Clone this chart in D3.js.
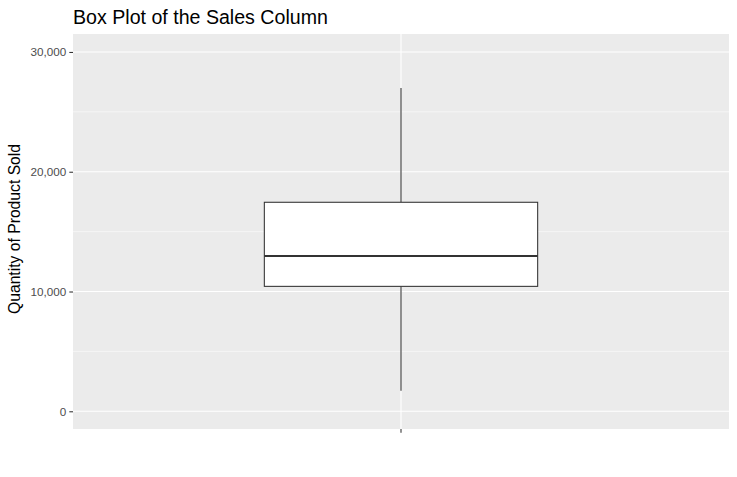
<!DOCTYPE html>
<html><head><meta charset="utf-8">
<script src="https://cdn.jsdelivr.net/npm/d3@7"></script>
<style>body{margin:0;background:#fff}svg{display:block}</style>
</head><body>
<svg id="c" width="737" height="477"></svg>
<script>
// Data
const categories = [""];
const lowerWhisker = [1720];
const q1 = [10430];
const median = [12960];
const q3 = [17450];
const upperWhisker = [27000];
const dataExtent = [20, 30000]; // full data range incl. hidden outliers
const yTicks = [0, 10000, 20000, 30000];
const yMinor = [5000, 15000, 25000];

const W = 737, H = 477;
const m = {left: 73, right: 8, top: 34, bottom: 48};
const svg = d3.select("#c");
const pw = W - m.left - m.right, ph = H - m.top - m.bottom;
const FONT = "Liberation Sans, Arial, sans-serif";

const span = dataExtent[1] - dataExtent[0];
const y = d3.scaleLinear()
  .domain([dataExtent[0] - span * 0.05, dataExtent[1] + span * 0.05])
  .range([m.top + ph, m.top]);
const x = d3.scaleBand().domain(categories).range([m.left, m.left + pw]).paddingInner(0).paddingOuter(0);
const cx = c => x(c) + x.bandwidth() / 2;
const boxW = x.bandwidth() * 0.5 / 1.2;

svg.append("rect").attr("x", m.left).attr("y", m.top).attr("width", pw).attr("height", ph).attr("fill", "#EBEBEB");

const g = svg.append("g");
g.selectAll(".minor").data(yMinor).join("line")
  .attr("x1", m.left).attr("x2", m.left + pw)
  .attr("y1", d => y(d)).attr("y2", d => y(d))
  .attr("stroke", "#fff").attr("stroke-width", 0.53);
g.selectAll(".major").data(yTicks).join("line")
  .attr("x1", m.left).attr("x2", m.left + pw)
  .attr("y1", d => y(d)).attr("y2", d => y(d))
  .attr("stroke", "#fff").attr("stroke-width", 1.07);
g.selectAll(".vmajor").data(categories).join("line")
  .attr("x1", d => cx(d)).attr("x2", d => cx(d))
  .attr("y1", m.top).attr("y2", m.top + ph)
  .attr("stroke", "#fff").attr("stroke-width", 1.07);

// Boxes
const b = svg.append("g");
categories.forEach((c, i) => {
  b.append("line").attr("x1", cx(c)).attr("x2", cx(c))
    .attr("y1", y(upperWhisker[i])).attr("y2", y(q3[i]))
    .attr("stroke", "#333").attr("stroke-width", 1.07);
  b.append("line").attr("x1", cx(c)).attr("x2", cx(c))
    .attr("y1", y(q1[i])).attr("y2", y(lowerWhisker[i]))
    .attr("stroke", "#333").attr("stroke-width", 1.07);
  b.append("rect").attr("x", cx(c) - boxW / 2).attr("y", y(q3[i]))
    .attr("width", boxW).attr("height", y(q1[i]) - y(q3[i]))
    .attr("fill", "#fff").attr("stroke", "#333").attr("stroke-width", 1.07);
  b.append("line").attr("x1", cx(c) - boxW / 2).attr("x2", cx(c) + boxW / 2)
    .attr("y1", y(median[i])).attr("y2", y(median[i]))
    .attr("stroke", "#333").attr("stroke-width", 2.13);
});

// Axes
const fmt = d3.format(",");
const ya = svg.append("g").attr("transform", `translate(${m.left},0)`)
  .call(d3.axisLeft(y).tickValues(yTicks).tickFormat(fmt).tickSize(3.7).tickPadding(3));
ya.select(".domain").remove();
ya.selectAll(".tick line").attr("stroke", "#333").attr("stroke-width", 1.07);
ya.selectAll(".tick text").attr("fill", "#4D4D4D").style("font-family", FONT).style("font-size", "11.7px");

const xa = svg.append("g").attr("transform", `translate(0,${m.top + ph})`)
  .call(d3.axisBottom(x).tickSize(3.7).tickPadding(3));
xa.select(".domain").remove();
xa.selectAll(".tick line").attr("stroke", "#333").attr("stroke-width", 1.07);
xa.selectAll(".tick text").attr("fill", "#4D4D4D").style("font-family", FONT).style("font-size", "11.7px");

svg.append("text").attr("x", m.left).attr("y", 24)
  .style("font-family", FONT).style("font-size", "19.6px").attr("fill", "#000")
  .text("Box Plot of the Sales Column");

svg.append("text").attr("transform", `translate(20,229) rotate(-90)`)
  .attr("text-anchor", "middle")
  .style("font-family", FONT).style("font-size", "15.7px").attr("fill", "#000")
  .text("Quantity of Product Sold");
</script>
</body></html>
